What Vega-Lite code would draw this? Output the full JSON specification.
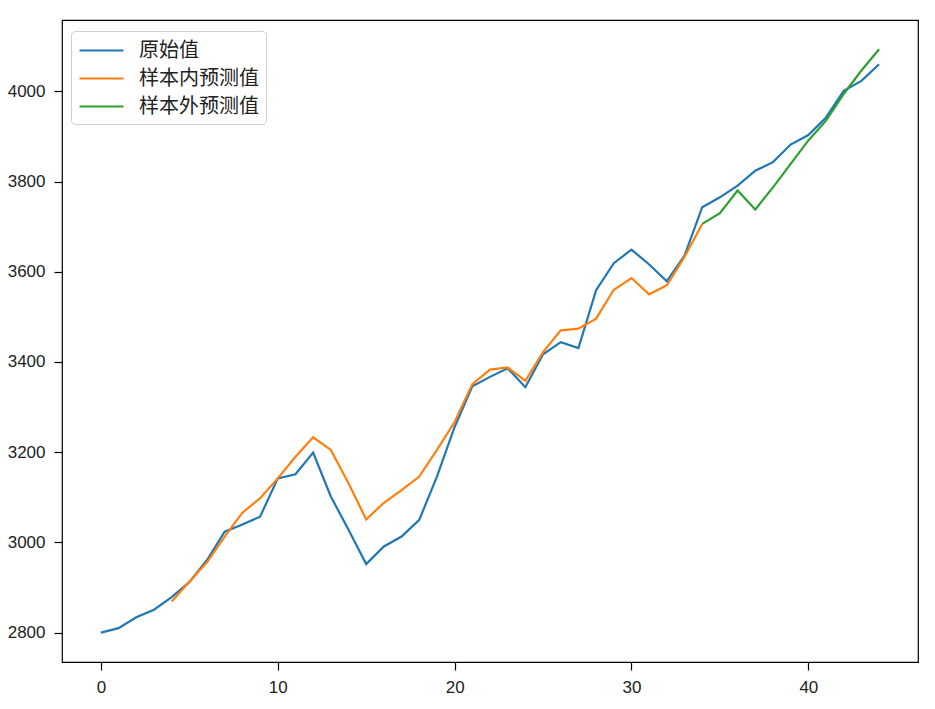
{
  "$schema": "https://vega.github.io/schema/vega-lite/v6.json",
  "width": 856,
  "height": 642,
  "autosize": {"type": "none"},
  "padding": {"left": 62, "top": 20, "right": 17, "bottom": 47},
  "background": "white",
  "config": {
    "view": {"stroke": "black", "strokeWidth": 1.2},
    "axis": {
      "grid": false,
      "domain": false,
      "tickColor": "black",
      "tickSize": 8,
      "tickWidth": 1.2,
      "labelFont": "Liberation Sans",
      "labelFontSize": 17,
      "labelColor": "#222",
      "labelPadding": 9,
      "title": null
    }
  },
  "data": {
    "values": [
      {"x": 0, "s": "原始值", "v": 2800}, {"x": 1, "s": "原始值", "v": 2810},
      {"x": 2, "s": "原始值", "v": 2834}, {"x": 3, "s": "原始值", "v": 2851},
      {"x": 4, "s": "原始值", "v": 2879}, {"x": 5, "s": "原始值", "v": 2912},
      {"x": 6, "s": "原始值", "v": 2961}, {"x": 7, "s": "原始值", "v": 3024},
      {"x": 8, "s": "原始值", "v": 3040}, {"x": 9, "s": "原始值", "v": 3057},
      {"x": 10, "s": "原始值", "v": 3142}, {"x": 11, "s": "原始值", "v": 3151},
      {"x": 12, "s": "原始值", "v": 3199}, {"x": 13, "s": "原始值", "v": 3102},
      {"x": 14, "s": "原始值", "v": 3028}, {"x": 15, "s": "原始值", "v": 2952},
      {"x": 16, "s": "原始值", "v": 2991}, {"x": 17, "s": "原始值", "v": 3013},
      {"x": 18, "s": "原始值", "v": 3050}, {"x": 19, "s": "原始值", "v": 3146},
      {"x": 20, "s": "原始值", "v": 3256}, {"x": 21, "s": "原始值", "v": 3346},
      {"x": 22, "s": "原始值", "v": 3367}, {"x": 23, "s": "原始值", "v": 3386},
      {"x": 24, "s": "原始值", "v": 3344}, {"x": 25, "s": "原始值", "v": 3417},
      {"x": 26, "s": "原始值", "v": 3444}, {"x": 27, "s": "原始值", "v": 3431},
      {"x": 28, "s": "原始值", "v": 3559}, {"x": 29, "s": "原始值", "v": 3619},
      {"x": 30, "s": "原始值", "v": 3649}, {"x": 31, "s": "原始值", "v": 3616},
      {"x": 32, "s": "原始值", "v": 3579}, {"x": 33, "s": "原始值", "v": 3636},
      {"x": 34, "s": "原始值", "v": 3743}, {"x": 35, "s": "原始值", "v": 3765},
      {"x": 36, "s": "原始值", "v": 3791}, {"x": 37, "s": "原始值", "v": 3824},
      {"x": 38, "s": "原始值", "v": 3843}, {"x": 39, "s": "原始值", "v": 3882},
      {"x": 40, "s": "原始值", "v": 3903}, {"x": 41, "s": "原始值", "v": 3942},
      {"x": 42, "s": "原始值", "v": 4001}, {"x": 43, "s": "原始值", "v": 4023},
      {"x": 44, "s": "原始值", "v": 4060},
      {"x": 4, "s": "样本内预测值", "v": 2869}, {"x": 5, "s": "样本内预测值", "v": 2913},
      {"x": 6, "s": "样本内预测值", "v": 2956}, {"x": 7, "s": "样本内预测值", "v": 3013},
      {"x": 8, "s": "样本内预测值", "v": 3066}, {"x": 9, "s": "样本内预测值", "v": 3098},
      {"x": 10, "s": "样本内预测值", "v": 3142}, {"x": 11, "s": "样本内预测值", "v": 3190},
      {"x": 12, "s": "样本内预测值", "v": 3233}, {"x": 13, "s": "样本内预测值", "v": 3205},
      {"x": 14, "s": "样本内预测值", "v": 3131}, {"x": 15, "s": "样本内预测值", "v": 3051},
      {"x": 16, "s": "样本内预测值", "v": 3088}, {"x": 17, "s": "样本内预测值", "v": 3116},
      {"x": 18, "s": "样本内预测值", "v": 3146}, {"x": 19, "s": "样本内预测值", "v": 3205},
      {"x": 20, "s": "样本内预测值", "v": 3267}, {"x": 21, "s": "样本内预测值", "v": 3351},
      {"x": 22, "s": "样本内预测值", "v": 3383}, {"x": 23, "s": "样本内预测值", "v": 3388},
      {"x": 24, "s": "样本内预测值", "v": 3358}, {"x": 25, "s": "样本内预测值", "v": 3422},
      {"x": 26, "s": "样本内预测值", "v": 3470}, {"x": 27, "s": "样本内预测值", "v": 3474},
      {"x": 28, "s": "样本内预测值", "v": 3496}, {"x": 29, "s": "样本内预测值", "v": 3560},
      {"x": 30, "s": "样本内预测值", "v": 3586}, {"x": 31, "s": "样本内预测值", "v": 3550},
      {"x": 32, "s": "样本内预测值", "v": 3570}, {"x": 33, "s": "样本内预测值", "v": 3633},
      {"x": 34, "s": "样本内预测值", "v": 3706},
      {"x": 34, "s": "样本外预测值", "v": 3706}, {"x": 35, "s": "样本外预测值", "v": 3730},
      {"x": 36, "s": "样本外预测值", "v": 3780}, {"x": 37, "s": "样本外预测值", "v": 3738},
      {"x": 38, "s": "样本外预测值", "v": 3787}, {"x": 39, "s": "样本外预测值", "v": 3839},
      {"x": 40, "s": "样本外预测值", "v": 3891}, {"x": 41, "s": "样本外预测值", "v": 3935},
      {"x": 42, "s": "样本外预测值", "v": 3994}, {"x": 43, "s": "样本外预测值", "v": 4046},
      {"x": 44, "s": "样本外预测值", "v": 4093}
    ]
  },
  "mark": {"type": "line", "strokeWidth": 2.2},
  "encoding": {
    "x": {
      "field": "x", "type": "quantitative",
      "scale": {"domain": [-2.2, 46.2], "nice": false, "zero": false},
      "axis": {"values": [0, 10, 20, 30, 40], "format": "d"}
    },
    "y": {
      "field": "v", "type": "quantitative",
      "scale": {"domain": [2735, 4158], "nice": false, "zero": false},
      "axis": {"values": [2800, 3000, 3200, 3400, 3600, 3800, 4000], "format": "d"}
    },
    "color": {
      "field": "s", "type": "nominal",
      "scale": {
        "domain": ["原始值", "样本内预测值", "样本外预测值"],
        "range": ["#1f77b4", "#ff7f0e", "#2ca02c"]
      },
      "legend": {
        "title": null,
        "orient": "none",
        "legendX": 9,
        "legendY": 11,
        "padding": 7,
        "fillColor": "white",
        "strokeColor": "#d0d0d0",
        "cornerRadius": 4,
        "symbolType": "M-2,0H2",
        "symbolSize": 484,
        "symbolOffset": 11,
        "symbolStrokeWidth": 2.2,
        "symbolFillColor": "transparent",
        "labelFont": "Noto Sans CJK SC",
        "labelFontSize": 20,
        "labelColor": "#222",
        "labelOffset": 25,
        "rowPadding": 5
      }
    }
  }
}
